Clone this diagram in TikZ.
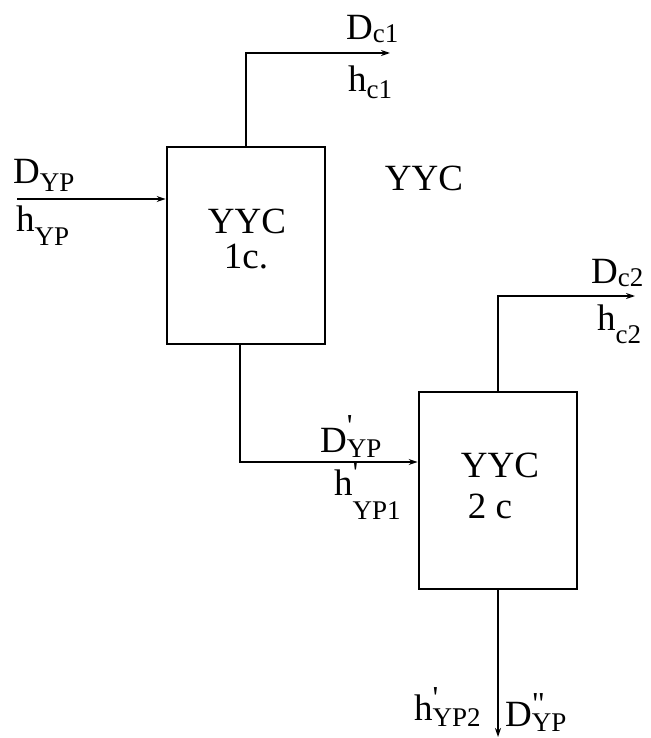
\documentclass[tikz,border=0pt]{standalone}
\usepackage{fontspec}
\setmainfont{Liberation Serif}
\usetikzlibrary{arrows.meta}
\newcommand\subx[2]{\raisebox{-#1pt}{\fontsize{27}{27}\selectfont #2}}
\newcommand\primex[2]{\rlap{\raisebox{#1pt}{\fontsize{32}{32}\selectfont #2}}}
\tikzset{
  unitbox/.style={draw, line width=2.8pt, minimum width=158pt, minimum height=197pt, inner sep=0pt},
  flow/.style={line width=2.6pt, -{Stealth[length=9pt,width=6pt]}},
  lbl/.style={anchor=base west, inner sep=0pt, font=\fontsize{37}{37}\selectfont},
  ctr/.style={anchor=base, inner sep=0pt, font=\fontsize{37}{37}\selectfont}
}
\begin{document}
\begin{tikzpicture}[x=1pt,y=-1pt]
\useasboundingbox (0,0) rectangle (650,738);
\node[unitbox] (b1) at (246,245.5) {};
\node[unitbox] (b2) at (498,490.5) {};
\node[ctr] (b1t1) at (247,233) {YYC};
\node[ctr] (b1t2) at (246,268) {1c.};
\node[ctr] (b2t1) at (500,477) {YYC};
\node[ctr] (b2t2) at (490,518) {2 c};
\node[ctr] (top) at (424,190) {YYC};
\coordinate (in1) at (17,199);
\coordinate (c1) at (390,53);
\coordinate (c2) at (635,296);
\coordinate (out3) at (498,737);
\draw[flow] (in1) -- (in1 -| b1.west);
\draw[flow] (b1.north) |- (c1);
\draw[flow] ([xshift=-6pt]b1.south) |- ([yshift=28.5pt]b2.west);
\draw[flow] (b2.north) |- (c2);
\draw[flow] (b2.south) -- (out3);
\node[lbl] (dyp) at (13,183) {D\subx{8}{YP}};
\node[lbl] (hyp) at (16,231) {h\subx{14}{YP}};
\node[lbl] (dc1) at (346,40) {D\subx{3}{c1}};
\node[lbl] (hc1) at (348,92) {h\subx{7}{c1}};
\node[lbl] (dc2) at (591,283) {D\subx{3}{c2}};
\node[lbl] (hc2) at (597,330) {h\subx{13}{c2}};
\node[lbl] (dyp1) at (320,452) {D\primex{16}{\textquotesingle}\subx{5}{YP}};
\node[lbl] (hyp1) at (334,495) {h\primex{12}{\textquotesingle}\subx{24}{YP1}};
\node[lbl] (hyp2) at (414,720) {h\primex{12}{\textquotesingle}\subx{6}{YP2}};
\node[lbl] (dyp2) at (505,726) {D\primex{12}{\textquotedbl}\subx{5}{YP}};
\end{tikzpicture}
\end{document}
